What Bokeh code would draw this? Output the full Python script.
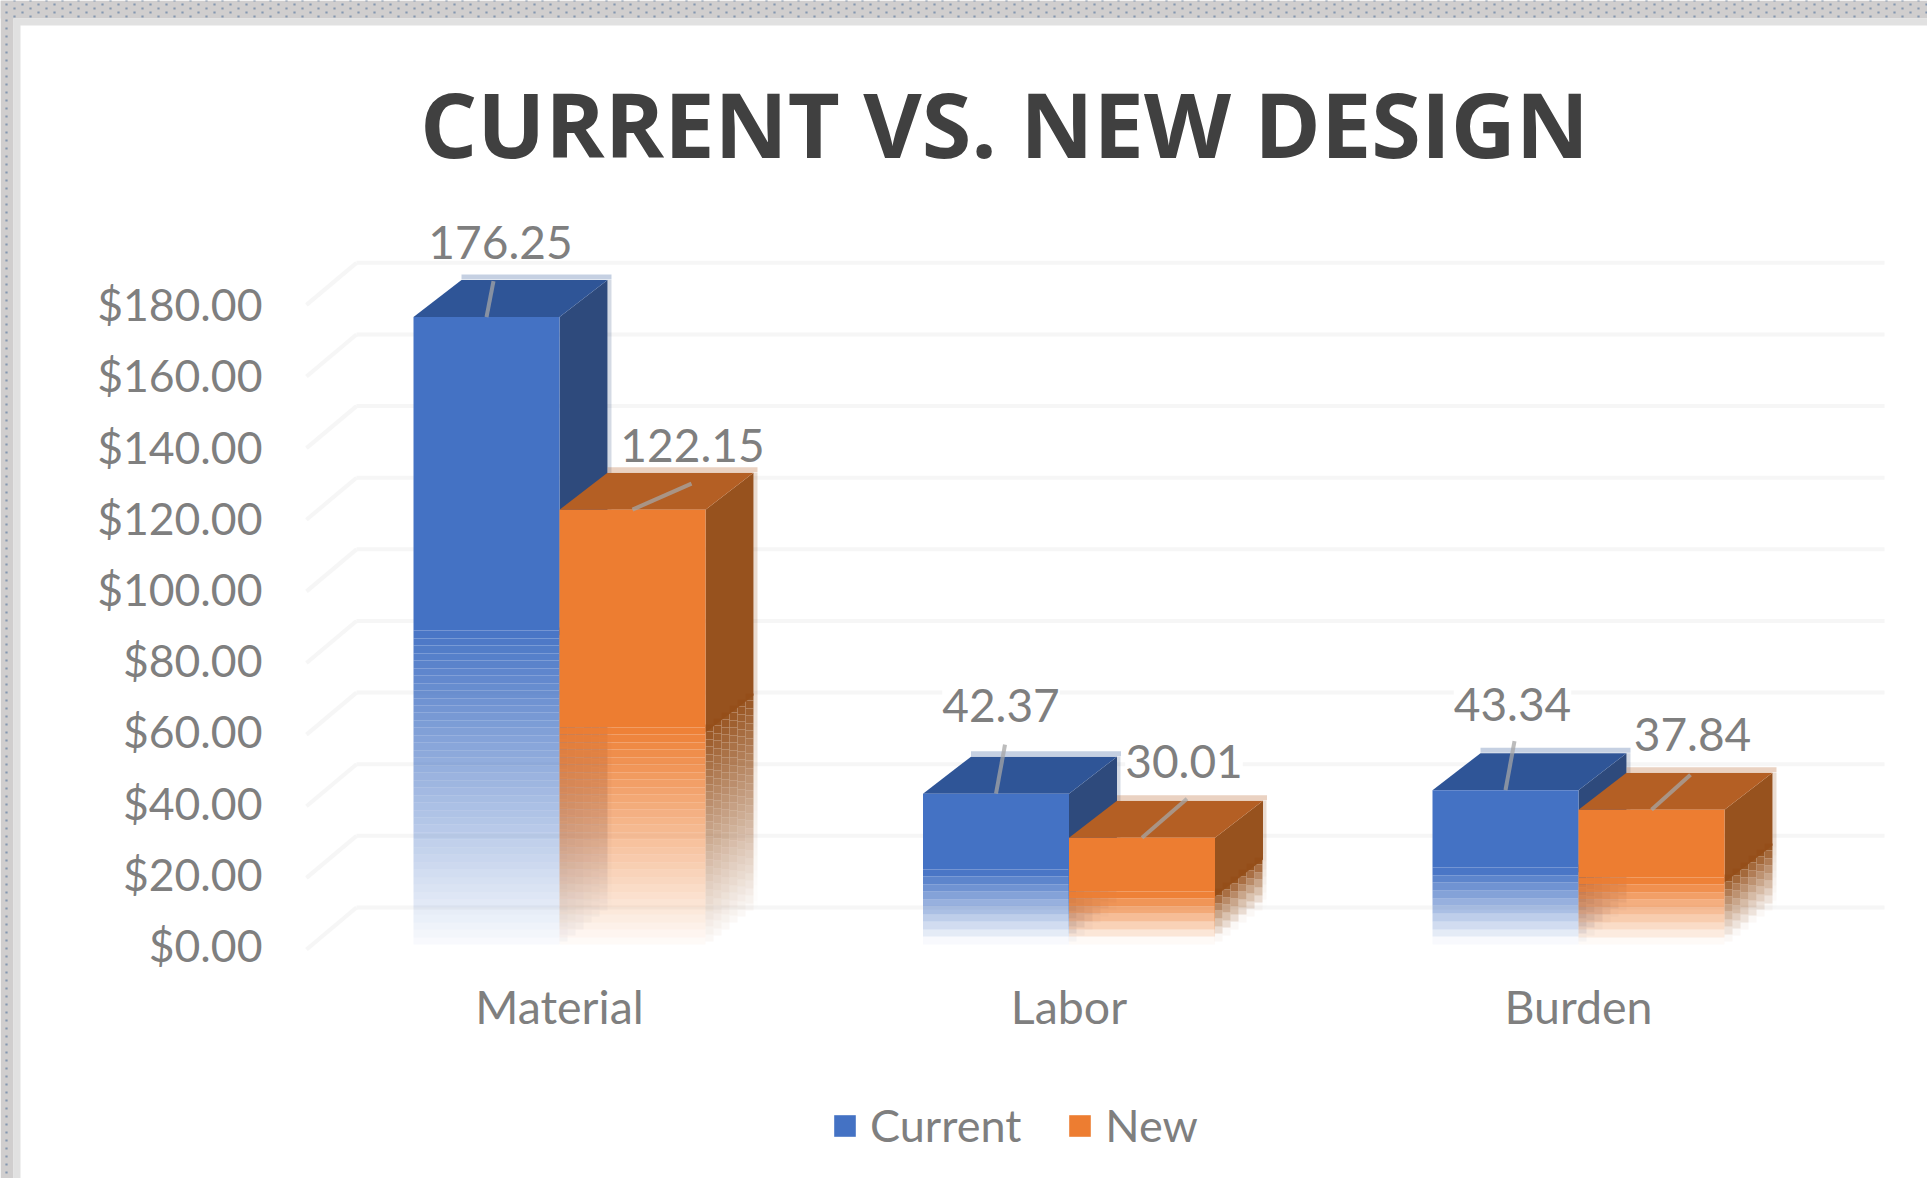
from bokeh.embed import file_html
from bokeh.resources import INLINE
from bokeh.plotting import figure
from bokeh.core.properties import value
from bokeh.models import (ColumnDataSource, FixedTicker, Legend, LegendItem,
                          LinearAxis, NumeralTickFormatter)
import numpy as np

# Chart values
categories = ["Material", "Labor", "Burden"]
current = [176.25, 42.37, 43.34]
new = [122.15, 30.01, 37.84]
value_ticks = [0, 20, 40, 60, 80, 100, 120, 140, 160, 180]
title_text = "CURRENT VS. NEW DESIGN"

# Page geometry in pixels
W, H = 1927, 1178
PX_PER_CAT = 509.5      # horizontal pixels per category
PX_PER_USD = 3.56       # vertical pixels per dollar
X0_PX = 559.0           # centre of the first category
Y0_PX = 944.0           # front baseline
BAR_W = 146 / PX_PER_CAT
DEPTH_PX_X = 48
DEPTH_PX_Y = 37
DEPTH_X = DEPTH_PX_X / PX_PER_CAT
DEPTH_Y = DEPTH_PX_Y / PX_PER_USD
BAND_PX = 7.5           # height of a gradient step
COLUMN_PX = 8           # width of a step column on the side faces


def dx(px):
    return px / PX_PER_CAT


def dy(px):
    return px / PX_PER_USD


def X(px):
    return (px - X0_PX) / PX_PER_CAT


def Y(px):
    return (Y0_PX - px) / PX_PER_USD


p = figure(width=W, height=H, output_backend="svg", toolbar_location=None,
           x_range=(X(0), X(W)), y_range=(Y(H), Y(0)),
           x_axis_location=None, y_axis_location=None,
           min_border=0, outline_line_color=None,
           background_fill_color="white", border_fill_color="white")
p.xgrid.visible = False
p.ygrid.visible = False

# Window frame: stippled band and its lighter inner edge
p.quad(left=[X(0), X(0)], right=[X(W), X(13)], top=[Y(0), Y(0)], bottom=[Y(18), Y(H)],
       fill_color="#d0cece", line_color=None)
p.quad(left=[X(13), X(13)], right=[X(W), X(20)], top=[Y(18), Y(18)], bottom=[Y(25), Y(H)],
       fill_color="#e1e1e1", line_color=None)
dot_x, dot_y = [], []
for row, yy in enumerate(range(0, 18, 4)):
    start = 14 if row % 2 == 0 else 6
    for xx in range(start, W, 16):
        dot_x.append(X(xx))
        dot_y.append(Y(yy))
for yy in range(20, H, 8):
    dot_x.append(X(6))
    dot_y.append(Y(yy))
p.scatter(dot_x, dot_y, marker="square", size=2.2, fill_color="#8497b0", line_color=None)

# Back wall gridlines and their receding floor lines
tick_arr = np.array(value_ticks, dtype=float)
grid_y = tick_arr * 1.006 + DEPTH_Y
p.segment(x0=[X(356)] * len(tick_arr), x1=[X(1884)] * len(tick_arr),
          y0=grid_y, y1=grid_y, line_color="#f6f6f6", line_width=4)
p.segment(x0=[X(356)] * len(tick_arr), x1=[X(306)] * len(tick_arr),
          y0=grid_y, y1=grid_y - dy(42), line_color="#f6f6f6", line_width=4)


def fade_steps(val):
    """Pixel edges measured up from the baseline, and the opacity of each step."""
    half_px = val * PX_PER_USD / 2
    n = max(int(round(half_px / BAND_PX)), 2)
    edges = np.round(np.linspace(half_px, 0.0, n + 1))
    alphas = np.linspace(0.97, 0.04, n)
    return edges, alphas


def draw_bar(x_left, val, front, side, top):
    x_right = x_left + BAR_W
    edges, alphas = fade_steps(val)
    half = edges[0] / PX_PER_USD
    overlap = dy(5)

    # soft edge along the back of the top face
    p.segment(x0=[x_left + DEPTH_X], y0=[val + DEPTH_Y + dy(3)],
              x1=[x_right + DEPTH_X + dx(4)], y1=[val + DEPTH_Y + dy(3)],
              line_color=top, line_width=5, line_alpha=0.28)

    # right-hand face: fading lower part, built from columns of steps that climb with depth
    right_px = round(x_right * PX_PER_CAT + X0_PX)
    n_cols = DEPTH_PX_X // COLUMN_PX
    l, r, b, t, a = [], [], [], [], []
    for j in range(n_cols):
        lift = round(DEPTH_PX_Y * (j + 0.5) / n_cols)
        for k, alpha in enumerate(alphas):
            l.append(X(right_px + j * COLUMN_PX))
            r.append(X(right_px + (j + 1) * COLUMN_PX))
            b.append((edges[k + 1] + lift) / PX_PER_USD)
            t.append((edges[k] + lift) / PX_PER_USD)
            a.append(float(alpha))
    # faint outer edge of the face, fading with it
    edge_l, edge_r = X(right_px + n_cols * COLUMN_PX), X(right_px + n_cols * COLUMN_PX + 4)
    for k, alpha in enumerate(alphas):
        l.append(edge_l)
        r.append(edge_r)
        b.append((edges[k + 1] + DEPTH_PX_Y) / PX_PER_USD)
        t.append((edges[k] + DEPTH_PX_Y) / PX_PER_USD)
        a.append(float(alpha) * 0.2)
    l.append(edge_l)
    r.append(edge_r)
    b.append((edges[0] + DEPTH_PX_Y) / PX_PER_USD)
    t.append(val + DEPTH_Y)
    a.append(0.2)
    p.quad(left="l", right="r", bottom="b", top="t", fill_alpha="a",
           fill_color=side, line_color=None,
           source=ColumnDataSource(dict(l=l, r=r, b=b, t=t, a=a)))

    # right-hand face: solid upper part, tucked slightly under the first steps
    p.patch([x_right, x_right, x_right + DEPTH_X, x_right + DEPTH_X],
            [half - overlap, val, val + DEPTH_Y, half + DEPTH_Y - overlap],
            fill_color=side, line_color=None, fill_alpha=0.98)

    # top face
    p.patch([x_left, x_right, x_right + DEPTH_X, x_left + DEPTH_X],
            [val, val, val + DEPTH_Y, val + DEPTH_Y],
            fill_color=top, line_color=None)

    # front face
    solid = p.quad(left=[x_left], right=[x_right], bottom=[half], top=[val],
                   fill_color=front, line_color=None)
    p.quad(left="l", right="r", bottom="b", top="t", fill_alpha="a",
           fill_color=front, line_color=None,
           source=ColumnDataSource(dict(
               l=[x_left] * len(alphas), r=[x_right] * len(alphas),
               b=edges[1:] / PX_PER_USD, t=edges[:-1] / PX_PER_USD, a=alphas)))
    return solid


BLUE = ("#4472c4", "#2a4679", "#2f5597")
ORANGE = ("#ed7d31", "#954f1a", "#b45f24")

legend_current = legend_new = None
for i in range(len(categories)):
    r1 = draw_bar(i - BAR_W, current[i], *BLUE)
    r2 = draw_bar(i, new[i], *ORANGE)
    legend_current = legend_current or r1
    legend_new = legend_new or r2

# Data labels and their leader lines, offset in pixels from the bar's front top centre
label_offsets = {"c": [(14, -75), (5, -88), (7, -86)], "n": [(60, -64), (42, -76), (41, -75)]}
leader_ends = {"c": [(7, -36), (9, -49), (9, -49)], "n": [(59, -26), (45, -39), (39, -35)]}
lab_x, lab_y, lab_t, seg = [], [], [], []
for key, vals, shift in (("c", current, -BAR_W / 2), ("n", new, BAR_W / 2)):
    for i, v in enumerate(vals):
        cx = i + shift
        ox, oy = label_offsets[key][i]
        ex, ey = leader_ends[key][i]
        lab_x.append(cx + dx(ox))
        lab_y.append(v - dy(oy))
        lab_t.append(f"{v:.2f}")
        seg.append((cx, v, cx + dx(ex), v - dy(ey)))
p.segment(x0=[s[0] for s in seg], y0=[s[1] for s in seg],
          x1=[s[2] for s in seg], y1=[s[3] for s in seg],
          line_color="#a6a6a6", line_width=4, line_alpha=0.75)
p.text(lab_x, lab_y, text=lab_t, text_font=value("Lato"), text_font_size="46px",
       text_color="#7f7f7f", text_align="center", text_baseline="middle",
       background_fill_color="white")

# Title
p.text([X(1004)], [Y(122)], text=[title_text], text_font=value("Open Sans"),
       text_font_style="bold", text_font_size="90px", text_color="#404040",
       text_align="center", text_baseline="middle")

# Axes
yaxis = LinearAxis(fixed_location=X(303), ticker=FixedTicker(ticks=value_ticks),
                   formatter=NumeralTickFormatter(format="$0.00"))
xaxis = LinearAxis(fixed_location=0, ticker=FixedTicker(ticks=list(range(len(categories)))),
                   major_label_overrides={i: c for i, c in enumerate(categories)})
for ax in (xaxis, yaxis):
    ax.axis_line_color = None
    ax.major_tick_line_color = None
    ax.minor_tick_line_color = None
    ax.major_label_text_font = "Lato"
    ax.major_label_text_color = "#7f7f7f"
yaxis.major_label_text_font_size = "44.5px"
xaxis.major_label_text_font_size = "46.5px"
yaxis.major_label_standoff = 35
xaxis.major_label_standoff = 27
p.add_layout(yaxis, "left")
p.add_layout(xaxis, "below")

# Legend
legend = Legend(items=[LegendItem(label="Current", renderers=[legend_current]),
                       LegendItem(label="New", renderers=[legend_new])],
                orientation="horizontal", location=(831, 26),
                glyph_width=27, glyph_height=27, label_text_font="Lato",
                label_text_font_size="45px", label_text_color="#7f7f7f",
                background_fill_alpha=0, border_line_color=None,
                spacing=45, label_standoff=12, padding=10, margin=0)
p.add_layout(legend, "center")

open("out.html", "w").write(file_html(p, INLINE))
